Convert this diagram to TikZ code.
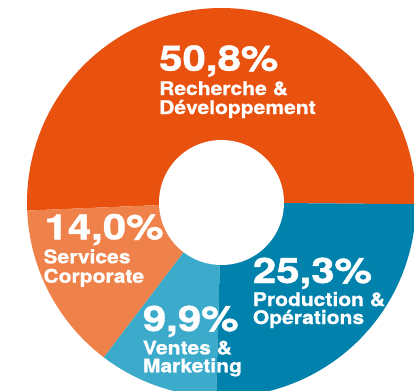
\documentclass[tikz,border=0pt]{standalone}
\usepackage{fontspec}
\setmainfont{TeX Gyre Heros}
\newfontfamily\pctfont{TeX Gyre Heros}[FakeStretch=1.2, BoldFeatures={FakeBold=1.2}]
\newfontfamily\lblfont{TeX Gyre Heros}[FakeStretch=1.12, BoldFeatures={FakeBold=0.8}]
\definecolor{rdcol}{HTML}{E8510E}
\definecolor{svcol}{HTML}{EF824A}
\definecolor{vmcol}{HTML}{3CAACB}
\definecolor{pocol}{HTML}{0082AC}
\tikzset{
  pct/.style={anchor=base west, inner sep=0pt, text=white, font=\pctfont\bfseries\fontsize{35bp}{35bp}\selectfont},
  lbl/.style={anchor=base west, inner sep=0pt, text=white, font=\lblfont\bfseries\fontsize{18.8bp}{18.8bp}\selectfont},
}
\begin{document}
\begin{tikzpicture}[x=1bp,y=1bp]
\useasboundingbox (0,0) rectangle (414,391);
\fill[white] (0,0) rectangle (414,391);
\begin{scope}[shift={(221.5,188.5)}]
  \coordinate (c) at (0,0);
  \fill[rdcol] (c) -- (-0.5:194.5) arc[start angle=-0.5, end angle=182.38, radius=194.5] -- cycle;
  \fill[svcol] (c) -- (182.38:194.5) arc[start angle=182.38, end angle=232.78, radius=194.5] -- cycle;
  \fill[vmcol] (c) -- (232.78:194.5) arc[start angle=232.78, end angle=268.42, radius=194.5] -- cycle;
  \fill[pocol] (c) -- (268.42:194.5) arc[start angle=268.42, end angle=359.5, radius=194.5] -- cycle;
  \fill[white] (c) circle[radius=62.5];
\end{scope}
% R&D
\node[pct] (rdp) at (159,391-70.7) {50,8\%};
\node[lbl] (rdl1) at (159,391-95) {Recherche \&};
\node[lbl] (rdl2) at (159,391-114) {Développement};
% Services
\node[pct] (svp) at (44.3,391-239.3) {14,0\%};
\node[lbl] (svl1) at (43.3,391-263.3) {Services};
\node[lbl] (svl2) at (43.3,391-282.7) {Corporate};
% Ventes
\node[pct] (vmp) at (142.7,391-331) {9,9\%};
\node[lbl] (vml1) at (142.7,391-354.3) {Ventes \&};
\node[lbl] (vml2) at (142.7,391-372.3) {Marketing};
% Production
\node[pct] (pop) at (252.7,391-283) {25,3\%};
\node[lbl] (pol1) at (252.7,391-306) {Production \&};
\node[lbl] (pol2) at (252.7,391-324) {Opérations};
\end{tikzpicture}
\end{document}
